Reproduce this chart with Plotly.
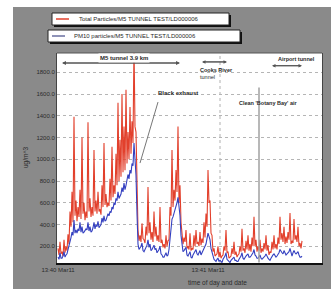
import plotly.graph_objects as go

# sample index
t = list(range(0, 245))

total_particles = [
    180, 120, 240, 130, 150, 110, 260, 140, 200, 160,
    310, 220, 520, 380, 700, 420, 1390, 480, 620, 430,
    560, 470, 720, 450, 1200, 500, 600, 440, 520, 460,
    1340, 520, 640, 470, 560, 480, 1085, 520, 620, 500,
    700, 520, 540, 490, 760, 560, 1150, 580, 680, 560,
    600, 570, 820, 620, 1115, 650, 760, 680, 1050, 760,
    1520, 800, 1180, 840, 1600, 880, 1300, 900, 1640, 960,
    1250, 1000, 1480, 1050, 1350, 1150, 2050, 1300, 1250, 700,
    350, 250, 300, 240, 410, 270, 260, 230, 380, 300,
    745, 320, 420, 260, 330, 240, 520, 290, 380, 250,
    300, 240, 560, 230, 260, 190, 220, 180, 300, 200,
    250, 260, 560, 480, 1085, 560, 720, 620, 900, 700,
    1300, 600, 760, 420, 330, 220, 280, 240, 350, 180,
    200, 170, 320, 160, 180, 170, 300, 200, 350, 220,
    240, 200, 330, 210, 270, 230, 420, 280, 500, 380,
    900, 600, 620, 320, 300, 150, 180, 110, 120, 130,
    200, 100, 150, 90, 110, 120, 200, 160, 350, 140,
    150, 90, 100, 110, 180, 130, 240, 120, 150, 100,
    120, 130, 200, 150, 360, 160, 180, 140, 250, 170,
    300, 160, 220, 150, 280, 200, 470, 200, 260, 150,
    200, 160, 260, 140, 180, 150, 230, 170, 300, 160,
    210, 120, 150, 140, 240, 170, 300, 180, 220, 170,
    280, 220, 470, 260, 320, 240, 380, 220, 290, 230,
    330, 260, 505, 220, 250, 230, 450, 260, 300, 240,
    380, 200, 230, 180, 250,
]

pm10_particles = [
    100, 80, 140, 90, 90, 110, 150, 100, 120, 130,
    170, 200, 250, 280, 330, 300, 440, 320, 350, 320,
    360, 340, 420, 330, 380, 320, 330, 340, 360, 350,
    420, 340, 380, 330, 340, 370, 420, 360, 400, 380,
    430, 370, 380, 400, 460, 420, 480, 430, 440, 470,
    500, 480, 520, 510, 560, 540, 600, 580, 640, 620,
    700, 640, 660, 680, 740, 700, 780, 720, 760, 800,
    860, 820, 900, 870, 960, 940, 1150, 1000, 850, 500,
    220, 170, 180, 200, 230, 160, 150, 170, 200, 210,
    260, 190, 220, 160, 170, 190, 210, 170, 180, 140,
    150, 170, 200, 130, 120, 100, 100, 120, 140, 110,
    120, 170, 250, 380, 450, 470, 500, 520, 560, 600,
    650, 560, 480, 300, 200, 150, 160, 170, 190, 120,
    110, 130, 150, 100, 90, 120, 140, 150, 170, 130,
    120, 140, 160, 120, 140, 160, 190, 200, 220, 270,
    320, 290, 260, 180, 150, 100, 80, 70, 60, 80,
    90, 60, 70, 60, 50, 80, 90, 110, 140, 80,
    70, 60, 50, 70, 80, 90, 100, 70, 70, 60,
    60, 80, 90, 110, 140, 90, 80, 100, 110, 120,
    130, 100, 100, 110, 120, 140, 170, 120, 110, 90,
    90, 100, 120, 90, 80, 90, 100, 110, 130, 100,
    90, 80, 70, 90, 110, 120, 130, 110, 100, 110,
    120, 140, 170, 150, 140, 130, 160, 140, 120, 130,
    140, 150, 180, 130, 110, 140, 160, 140, 130, 140,
    150, 120, 100, 100, 110,
]

y_ticks = [200, 400, 600, 800, 1000, 1200, 1400, 1600, 1800]
x_tick_vals = [0, 150]
x_tick_text = ["13:40 Mar11", "13:41 Mar11"]

legend_names = ["Total Particles/M5 TUNNEL TEST/LD000006",
                "PM10 particles/M5 TUNNEL TEST/LD000006"]

RED = "#e2402c"
BLUE = "#3440c0"
GRAY_BG = "rgb(138,138,138)"
TXT = "#2a2a2a"
FONT = "Liberation Sans"

fig = go.Figure()
fig.add_trace(go.Scatter(x=t, y=total_particles, mode="lines",
                         line=dict(color=RED, width=1.1), name=legend_names[0]))
fig.add_trace(go.Scatter(x=t, y=pm10_particles, mode="lines",
                         line=dict(color=BLUE, width=1.1), name=legend_names[1]))

W, H = 331, 289
L, R, T, B = 57, 9, 53, 26
pw, ph = W - L - R, H - T - B


def px(xp):
    return (xp - L) / pw


def py(yp):
    return (H - B - yp) / ph


shapes = []
# white outer margins (top and left)
shapes.append(dict(type="rect", xref="paper", yref="paper", x0=px(0), x1=px(W),
                   y0=py(7), y1=py(0), fillcolor="white", line=dict(width=0), layer="below"))
shapes.append(dict(type="rect", xref="paper", yref="paper", x0=px(0), x1=px(13),
                   y0=py(H), y1=py(0), fillcolor="white", line=dict(width=0), layer="below"))
# legend boxes with shadow
for (x0, x1, y0, y1) in [(52, 229, 13, 25), (48, 240, 30, 42)]:
    shapes.append(dict(type="rect", xref="paper", yref="paper",
                       x0=px(x0 + 2), x1=px(x1 + 2), y0=py(y1 + 2), y1=py(y0 + 2),
                       fillcolor="#111", line=dict(width=0)))
    shapes.append(dict(type="rect", xref="paper", yref="paper",
                       x0=px(x0), x1=px(x1), y0=py(y1), y1=py(y0),
                       fillcolor="white", line=dict(color="#222", width=1)))
shapes.append(dict(type="line", xref="paper", yref="paper", x0=px(56), x1=px(69),
                   y0=py(19), y1=py(19), line=dict(color=RED, width=1.5)))
shapes.append(dict(type="line", xref="paper", yref="paper", x0=px(52), x1=px(65),
                   y0=py(36), y1=py(36), line=dict(color="#6a6fa0", width=1.5)))
# top border
shapes.append(dict(type="line", xref="paper", yref="paper", x0=0, x1=1, y0=1, y1=1,
                   line=dict(color="#555", width=1)))
# vertical dotted grid at second tick
shapes.append(dict(type="line", xref="x", yref="paper", x0=162, x1=162, y0=0, y1=1,
                   line=dict(color="#b0b0b0", width=1, dash="dot"), layer="below"))
# clean air vertical line
shapes.append(dict(type="line", xref="x", yref="y", x0=201, x1=201, y0=50, y1=1660,
                   line=dict(color="#a0a0a0", width=1.5)))
# black exhaust pointer
shapes.append(dict(type="line", xref="x", yref="y", x0=100, x1=82, y0=1526, y1=965,
                   line=dict(color="#777", width=1)))

annotations = [
    dict(xref="paper", yref="paper", x=px(77), y=py(19), xanchor="left", yanchor="middle",
         text=legend_names[0], showarrow=False, font=dict(size=6, color=TXT, family=FONT)),
    dict(xref="paper", yref="paper", x=px(72), y=py(36), xanchor="left", yanchor="middle",
         text=legend_names[1], showarrow=False, font=dict(size=6, color=TXT, family=FONT)),
    dict(xref="paper", yref="paper", x=px(20), y=py(157), textangle=-90,
         text="ug/m^3", showarrow=False, font=dict(size=6.5, color=TXT, family=FONT)),
    dict(xref="paper", yref="paper", x=px(249), y=py(283), yanchor="middle",
         text="time of day and date", showarrow=False, font=dict(size=6.5, color=TXT, family=FONT)),
    # M5 tunnel arrow
    dict(xref="x", yref="y", x=4, y=1885, ax=122, ay=1885, axref="x", ayref="y",
         showarrow=True, arrowhead=2, arrowsize=0.8, arrowwidth=1, arrowcolor="#555", text=""),
    dict(xref="x", yref="y", x=122, y=1885, ax=4, ay=1885, axref="x", ayref="y",
         showarrow=True, arrowhead=2, arrowsize=0.8, arrowwidth=1, arrowcolor="#555", text=""),
    dict(xref="x", yref="y", x=66, y=1931, text="<b>M5 tunnel 3.9 km</b>", showarrow=False,
         bgcolor="white", font=dict(size=6, color=TXT, family=FONT)),
    # Cooks River
    dict(xref="x", yref="y", x=144, y=1895, ax=169, ay=1895, axref="x", ayref="y",
         showarrow=True, arrowhead=2, arrowsize=0.7, arrowwidth=1, arrowcolor="#555", text=""),
    dict(xref="x", yref="y", x=169, y=1895, ax=144, ay=1895, axref="x", ayref="y",
         showarrow=True, arrowhead=2, arrowsize=0.7, arrowwidth=1, arrowcolor="#555", text=""),
    dict(xref="x", yref="y", x=140, y=1790, xanchor="left", align="left",
         text="<b>Cooks River</b><br>tunnel", showarrow=False,
         font=dict(size=5.5, color=TXT, family=FONT)),
    # Airport tunnel
    dict(xref="x", yref="y", x=214, y=1860, ax=244, ay=1860, axref="x", ayref="y",
         showarrow=True, arrowhead=2, arrowsize=0.7, arrowwidth=1, arrowcolor="#555", text=""),
    dict(xref="x", yref="y", x=244, y=1860, ax=214, ay=1860, axref="x", ayref="y",
         showarrow=True, arrowhead=2, arrowsize=0.7, arrowwidth=1, arrowcolor="#555", text=""),
    dict(xref="x", yref="y", x=238, y=1925, text="<b>Airport tunnel</b>", showarrow=False,
         font=dict(size=5.5, color=TXT, family=FONT)),
    # Black exhaust
    dict(xref="x", yref="y", x=120, y=1609, text="<b>Black exhaust</b>", showarrow=False,
         font=dict(size=6, color=TXT, family=FONT)),
    # Clean Botany Bay air
    dict(xref="x", yref="y", x=210, y=1520, text="<b>Clean 'Botany Bay' air</b>", showarrow=False,
         font=dict(size=5.5, color=TXT, family=FONT)),
]

fig.update_layout(
    width=W, height=H,
    margin=dict(l=L, r=R, t=T, b=B, pad=0),
    paper_bgcolor=GRAY_BG, plot_bgcolor="white",
    showlegend=False,
    shapes=shapes, annotations=annotations,
    xaxis=dict(range=[-1, 264], tickvals=x_tick_vals, ticktext=x_tick_text,
               showgrid=False, zeroline=False, showline=True, linecolor="#111", linewidth=2,
               ticks="", tickfont=dict(size=6, color=TXT, family=FONT)),
    yaxis=dict(range=[46, 1977], tickvals=y_ticks, tickformat=".1f",
               showgrid=True, gridcolor="#b5b5b5", griddash="dot", gridwidth=1,
               zeroline=False, showline=True, linecolor="#444", linewidth=1, mirror=True,
               ticks="", tickfont=dict(size=6, color=TXT, family=FONT)),
)

fig.write_html("out.html", config={"displayModeBar": False},
               post_script="document.body.style.margin='0';document.body.style.overflow='hidden';")
